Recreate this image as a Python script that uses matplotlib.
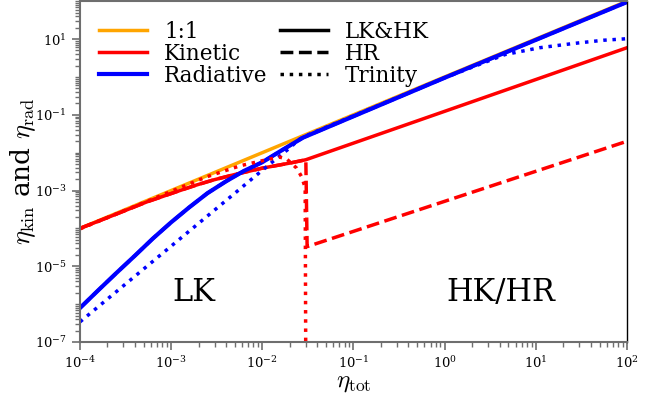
import numpy as np
import matplotlib
matplotlib.use("Agg")
import matplotlib.pyplot as plt
from matplotlib.ticker import LogLocator, NullFormatter

plt.rcParams['font.family'] = 'DejaVu Serif'
plt.rcParams['mathtext.fontset'] = 'dejavuserif'
plt.rcParams['axes.unicode_minus'] = False

# 1:1 line
one_x = [1e-4, 1e2]
one_y = [1e-4, 1e2]

# kinetic, LK branch then HK branch (solid)
kin_x = [1e-4, 2.3e-4, 5.4e-4, 1.25e-3, 1.9e-3, 2.9e-3, 5e-3, 1e-2, 2e-2, 3e-2, 1e2]
kin_y = [1e-4, 2.2e-4, 5e-4, 1.0e-3, 1.4e-3, 1.9e-3, 2.65e-3, 3.9e-3, 5.3e-3, 6.5e-3, 5.9]

# kinetic, HR (dashed)
kin_hr_x = [1e-4, 2.3e-4, 5.4e-4, 1.25e-3, 1.9e-3, 2.9e-3, 5e-3, 1e-2, 2e-2, 3e-2, 3.1e-2, 1e2]
kin_hr_y = [1e-4, 2.2e-4, 5e-4, 1.0e-3, 1.4e-3, 1.9e-3, 2.65e-3, 3.9e-3, 5.3e-3, 6.5e-3, 3.3e-5, 2e-2]

# kinetic, Trinity (dotted)
kin_tr_x = [1e-4, 1e-3, 2.45e-3, 5.7e-3, 1.21e-2, 1.56e-2, 1.85e-2, 2.38e-2, 2.7e-2, 2.95e-2, 3.0e-2]
kin_tr_y = [0.97e-4, 0.95e-3, 2.3e-3, 4.5e-3, 6.8e-3, 7.6e-3, 6.8e-3, 3.9e-3, 2.3e-3, 1.2e-3, 1e-8]

# radiative, LK & HK (solid) / HR (dashed)
rad_x = [1e-4, 1.58e-4, 2.5e-4, 4e-4, 6.3e-4, 1e-3, 1.58e-3, 2.5e-3, 4e-3, 6.3e-3,
         1e-2, 1.58e-2, 2.8e-2, 1.0, 1e2]
rad_y = [7.9e-7, 2.3e-6, 6.6e-6, 1.9e-5, 5.4e-5, 1.45e-4, 3.6e-4, 8.5e-4, 1.75e-3, 3.3e-3,
         5.6e-3, 1.1e-2, 2.5e-2, 0.95, 95]

# radiative, Trinity (dotted)
rad_tr_x = [1e-4, 1e-3, 5e-3, 8e-3, 1.38e-2, 2e-2, 2.5e-2, 3e-2, 1.0, 4.6, 11, 26, 55, 1e2]
rad_tr_y = [3.4e-7, 3.4e-5, 8.5e-4, 2.2e-3, 6.5e-3, 1.33e-2, 2.2e-2, 2.8e-2, 0.95, 3.9, 5.9, 7.65, 9.3, 10.2]

fig = plt.figure(figsize=(6.6, 3.96), dpi=100)
ax = fig.add_axes([0.1212, 0.1364, 0.8288, 0.8606])

lw = 2.5
ax.plot(one_x, one_y, color='orange', lw=lw, label='1:1')
ax.plot(kin_x, kin_y, color='red', lw=lw, label='Kinetic')
ax.plot(kin_hr_x, kin_hr_y, color='red', lw=lw, ls='--')
ax.plot(rad_x, rad_y, color='blue', lw=lw + 0.5, label='Radiative')
ax.plot(rad_x, rad_y, color='blue', lw=lw, ls='--')
ax.plot(rad_tr_x, rad_tr_y, color='blue', lw=lw, ls=':')
ax.plot(kin_tr_x, kin_tr_y, color='red', lw=lw, ls=':')

# style handles for the second legend column
ax.plot([], [], color='black', lw=lw, ls='-', label='LK&HK')
ax.plot([], [], color='black', lw=lw, ls='--', label='HR')
ax.plot([], [], color='black', lw=lw, ls=':', label='Trinity')

ax.set_xscale('log')
ax.set_yscale('log')
ax.set_xlim(1e-4, 1e2)
ax.set_ylim(1e-7, 1e2)
ax.set_yticks([1e-7, 1e-5, 1e-3, 1e-1, 1e1])
ax.xaxis.set_minor_locator(LogLocator(base=10, subs=np.arange(2, 10), numticks=100))
ax.yaxis.set_minor_locator(LogLocator(base=10, subs=np.arange(1, 10), numticks=100))
ax.xaxis.set_minor_formatter(NullFormatter())
ax.yaxis.set_minor_formatter(NullFormatter())

gray = '#6e6e6e'
for s in ['left', 'bottom', 'top']:
    ax.spines[s].set_color(gray)
    ax.spines[s].set_linewidth(1.5)
ax.spines['right'].set_color('black')
ax.spines['right'].set_linewidth(1.0)
ax.tick_params(which='both', direction='out', color=gray, labelsize=9.5, top=False, right=False)
ax.tick_params(which='major', length=6, width=1.2)
ax.tick_params(which='minor', length=3.5, width=1.0)

ax.set_xlabel(r'$\eta_{\rm tot}$', fontsize=18, math_fontfamily='cm', labelpad=0)
ax.set_ylabel(r'$\eta_{\rm kin}$ and $\eta_{\rm rad}$', fontsize=19, math_fontfamily='cm')
ax.yaxis.set_label_coords(-0.077, 0.5)

ax.text(1.78e-3, 2e-6, 'LK', fontsize=22, ha='center', va='center')
ax.text(4.15, 2e-6, 'HK/HR', fontsize=22, ha='center', va='center')

ax.legend(loc='upper left', ncol=2, frameon=False, fontsize=15.5,
          handlelength=2.2, labelspacing=0.0, columnspacing=0.6)

fig.savefig('out.png', dpi=100)
